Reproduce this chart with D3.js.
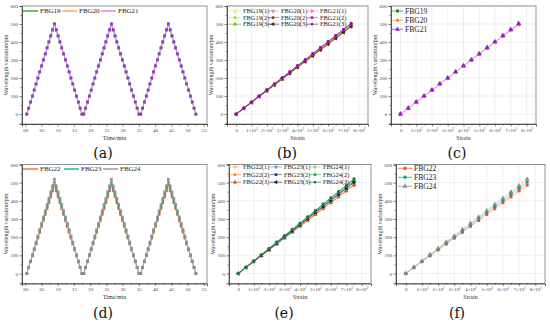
<!DOCTYPE html>
<html><head><meta charset="utf-8">
<script src="https://cdn.jsdelivr.net/npm/d3@7"></script>
<style>body{margin:0;background:#fff}svg{display:block}</style>
</head><body>
<svg id="c" width="550" height="323"></svg>
<script>
// ---------- DATA ----------
const timeMin = [0.50,1.07,1.63,2.20,2.76,3.33,3.90,4.46,5.03,5.59,6.16,6.73,7.29,7.86,8.42,8.99,9.56,10.12,10.69,11.25,11.82,12.39,12.95,13.52,14.08,14.65,15.22,15.78,16.35,16.91,17.48,
18.05,18.61,19.18,19.74,20.31,20.88,21.44,22.01,22.57,23.14,23.71,24.27,24.84,25.40,25.97,26.54,27.10,27.67,28.23,28.80,29.37,29.93,30.50,31.06,31.63,32.20,32.76,33.33,33.89,34.46,35.03,
35.59,36.16,36.72,37.29,37.86,38.42,38.99,39.55,40.12,40.69,41.25,41.82,42.38,42.95,43.52,44.08,44.65,45.21,45.78,46.35,46.91,47.48,48.04,48.61,49.18,49.74,50.31,50.87,51.44,52.01,52.57];
const loadStep = [0,1,2,3,4,5,6,7,8,9,10,11,12,13,14,15,14,13,12,11,10,9,8,7,6,5,4,3,2,1,0,
0,1,2,3,4,5,6,7,8,9,10,11,12,13,14,15,14,13,12,11,10,9,8,7,6,5,4,3,2,1,0,
0,1,2,3,4,5,6,7,8,9,10,11,12,13,14,15,14,13,12,11,10,9,8,7,6,5,4,3,2,1,0];
const strain = [0,50,100,150,200,250,300,350,400,450,500,550,600,650,700,750];
const timeTicks = [0,5,10,15,20,25,30,35,40,45,50,55];
const strainTicks = [0,100,200,300,400,500,600,700,800];
const wlTicks = [0,100,200,300,400,500,600];

// mean responses (panels c, a)
const fbg19 = [0,33,67,100,133,167,200,234,267,300,334,367,400,433,467,499];
const fbg20 = [0,33,66,99,132,165,198,232,265,298,331,364,397,430,463,495];
const fbg21 = [0,33,67,100,134,168,201,235,268,302,335,369,402,436,469,502];
// repeated tests (panel b)
const fbg19r1 = [0,33,66,99,132,165,198,231,264,297,330,363,396,429,462,495];
const fbg19r2 = [0,33,66,100,133,166,199,232,265,298,331,364,397,430,463,497];
const fbg19r3 = [0,32,66,99,132,165,197,230,263,296,329,362,395,428,461,494];
const fbg20r1 = [0,32,65,97,130,162,195,227,260,292,325,357,390,422,455,487];
const fbg20r2 = [0,32,65,98,130,163,196,228,261,294,326,359,392,424,457,490];
const fbg20r3 = [0,32,64,97,129,162,194,226,259,291,323,356,388,420,453,485];
const fbg21r1 = [0,34,67,101,134,168,201,235,268,302,335,369,402,436,469,503];
const fbg21r2 = [0,33,67,100,134,167,201,234,268,301,335,368,402,435,469,502];
const fbg21r3 = [0,34,67,101,135,168,202,235,269,302,336,370,403,437,470,504];
// mean responses (panels f, d)
const fbg22 = [0,32,65,97,130,162,195,227,260,292,325,357,390,422,455,487];
const fbg23 = [0,34,67,101,134,168,201,235,268,302,335,369,402,436,469,503];
const fbg24 = [0,35,69,104,138,173,207,242,276,311,345,380,414,449,483,519];
// repeated tests (panel e)
const fbg22r1 = [0,32,65,97,130,162,195,227,260,292,325,357,390,422,455,487];
const fbg22r2 = [0,32,64,97,129,162,194,227,259,291,324,356,389,421,453,486];
const fbg22r3 = [0,33,65,98,130,163,196,228,261,293,326,359,391,424,456,489];
const fbg23r1 = [0,34,67,101,134,168,201,235,268,302,335,369,402,436,469,503];
const fbg23r2 = [0,33,67,100,134,167,201,234,268,301,335,368,401,435,468,502];
const fbg23r3 = [0,34,68,101,135,169,203,236,270,304,338,371,405,439,473,506];
const fbg24r1 = [0,35,69,104,138,173,207,242,276,311,345,380,414,449,483,518];
const fbg24r2 = [0,35,70,104,139,174,209,244,278,313,348,383,418,452,487,522];
const fbg24r3 = [0,34,69,103,138,172,207,241,276,310,345,379,414,448,483,517];

// ---------- DRAW ----------
const FONT = "'Liberation Serif','Times New Roman',serif";
const svg = d3.select("#c").style("font-family", FONT);

const SYM = {
  sq: {t: d3.symbolSquare, r: 0},
  ci: {t: d3.symbolCircle, r: 0},
  up: {t: d3.symbolTriangle, r: 0},
  dn: {t: d3.symbolTriangle, r: 180},
  lt: {t: d3.symbolTriangle, r: -90},
  rt: {t: d3.symbolTriangle, r: 90},
  ssq: {t: d3.symbolSquare, r: 0, s: 0.6}
};

function marker(g, cx, cy, sym, color, size) {
  const s = SYM[sym];
  g.append("path")
    .attr("d", d3.symbol().type(s.t).size(size * (s.s || 1))())
    .attr("transform", `translate(${cx},${cy}) rotate(${s.r})`)
    .attr("fill", color);
}

function panel(cfg) {
  const g = svg.append("g");
  const x = d3.scaleLinear().domain(cfg.xd).range([cfg.x0, cfg.x1]);
  const y = d3.scaleLinear().domain([-55, 600]).range([cfg.y1, cfg.y0]);
  if (cfg.grid) {
    g.append("g").selectAll("line").data(cfg.xt).join("line")
      .attr("x1", d => x(d)).attr("x2", d => x(d)).attr("y1", cfg.y0).attr("y2", cfg.y1)
      .attr("stroke", "#e4e4e4").attr("stroke-width", 0.6);
    g.append("g").selectAll("line").data(wlTicks).join("line")
      .attr("y1", d => y(d)).attr("y2", d => y(d)).attr("x1", cfg.x0).attr("x2", cfg.x1)
      .attr("stroke", "#e4e4e4").attr("stroke-width", 0.6);
  }
  g.append("rect").attr("x", cfg.x0).attr("y", cfg.y0)
    .attr("width", cfg.x1 - cfg.x0).attr("height", cfg.y1 - cfg.y0)
    .attr("fill", "none").attr("stroke", "#666").attr("stroke-width", 0.7);

  const xm = [];
  for (let i = 0; i < cfg.xt.length - 1; i++) xm.push((cfg.xt[i] + cfg.xt[i + 1]) / 2);
  g.append("g").attr("transform", `translate(0,${cfg.y1})`)
    .call(d3.axisBottom(x).tickValues(xm).tickSize(1.5).tickFormat(""))
    .call(a => a.select(".domain").remove())
    .selectAll("line").attr("stroke", "#444").attr("stroke-width", 0.6);
  const ym = [-50, 50, 150, 250, 350, 450, 550];
  g.append("g").attr("transform", `translate(${cfg.x0},0)`)
    .call(d3.axisLeft(y).tickValues(ym).tickSize(1.5).tickFormat(""))
    .call(a => a.select(".domain").remove())
    .selectAll("line").attr("stroke", "#444").attr("stroke-width", 0.6);

  const xa = g.append("g").attr("transform", `translate(0,${cfg.y1})`)
    .call(d3.axisBottom(x).tickValues(cfg.xt).tickSize(2.5).tickPadding(1.5)
      .tickFormat(cfg.xf));
  xa.select(".domain").attr("stroke", "#333").attr("stroke-width", 0.8);
  xa.selectAll("line").attr("stroke", "#333").attr("stroke-width", 0.6);
  xa.selectAll("text").attr("font-size", 5).attr("fill", "#444").attr("font-family", FONT);
  if (cfg.sup) {
    xa.selectAll("text").each(function (d) {
      const t = d3.select(this);
      if (d === 0) return;
      t.text(null);
      t.append("tspan").text(`${d / 100}×10`);
      t.append("tspan").attr("dy", -1.8).attr("font-size", 3.3).text("2");
    });
  }
  const ya = g.append("g").attr("transform", `translate(${cfg.x0},0)`)
    .call(d3.axisLeft(y).tickValues(wlTicks).tickSize(2.5).tickPadding(1.5));
  ya.select(".domain").attr("stroke", "#333").attr("stroke-width", 0.8);
  ya.selectAll("line").attr("stroke", "#333").attr("stroke-width", 0.6);
  ya.selectAll("text").attr("font-size", 5).attr("fill", "#444").attr("font-family", FONT);

  g.append("text").attr("x", (cfg.x0 + cfg.x1) / 2).attr("y", cfg.y1 + 15.5)
    .attr("text-anchor", "middle").attr("font-size", 6).attr("fill", "#333").text(cfg.xTitle);
  g.append("text").attr("transform", `translate(${cfg.x0 - 14.5},${(cfg.y0 + cfg.y1) / 2}) rotate(-90)`)
    .attr("text-anchor", "middle").attr("font-size", 6).attr("fill", "#333")
    .text("Wavelength variation/pm");
  g.append("text").attr("x", cfg.lx).attr("y", cfg.y1 + 34)
    .attr("text-anchor", "middle").attr("font-size", 14).attr("fill", "#111")
    .attr("font-family", "'DejaVu Serif','Liberation Serif',serif").text(cfg.label);
  return {g, x, y};
}

function series(P, xs, ys, color, lineColor, sym, size, lw) {
  const pts = xs.map((v, i) => [v, ys[i]]);
  P.g.append("path").datum(pts)
    .attr("d", d3.line().x(d => P.x(d[0])).y(d => P.y(d[1])))
    .attr("fill", "none").attr("stroke", lineColor).attr("stroke-width", lw);
  const mg = P.g.append("g");
  pts.forEach(p => marker(mg, P.x(p[0]), P.y(p[1]), sym, color, size));
}

function legendItem(g, x, y, len, color, sym, text, fs, lw, msize) {
  g.append("line").attr("x1", x).attr("x2", x + len).attr("y1", y).attr("y2", y)
    .attr("stroke", color).attr("stroke-width", lw);
  if (sym) marker(g, x + len / 2, y, sym, color, msize);
  g.append("text").attr("x", x + len + 2).attr("y", y + fs * 0.33)
    .attr("font-size", fs).attr("fill", "#222").text(text);
}

const timeFmt = d3.format("02d");
const top0 = 6, top1 = 124, bot0 = 164.5, bot1 = 283.5;

// ---- (a) ----
const A = panel({x0: 22, x1: 207, y0: top0, y1: top1, xd: [-1, 56], xt: timeTicks, xf: timeFmt,
  xTitle: "Time/min", label: "(a)", lx: 103});
const sA = [[fbg20, "#ff9f3a", "#ffb366"], [fbg19, "#2aa52a", "#3cb44b"], [fbg21, "#9b30d8", "#d98cff"]];
sA.forEach(([arr, mc, lc]) => series(A, timeMin, loadStep.map(k => arr[k]), mc, lc, "sq", 7, 0.8));
legendItem(A.g, 23, 11, 15, "#3cb44b", null, "FBG19", 7, 1.6);
legendItem(A.g, 62, 11, 15, "#ffb366", null, "FBG20", 7, 1.6);
legendItem(A.g, 101, 11, 15, "#d98cff", null, "FBG21", 7, 1.6);

// ---- (b) ----
const B = panel({x0: 227, x1: 368, y0: top0, y1: top1, xd: [-60, 860], xt: strainTicks, xf: d => d, sup: true,
  grid: true, xTitle: "Strain", label: "(b)", lx: 287});
const sB = [
  [fbg19r1, "#dff06a", "sq", "FBG19(1)"], [fbg19r2, "#a6e22e", "ci", "FBG19(2)"], [fbg19r3, "#6cbf1f", "up", "FBG19(3)"],
  [fbg20r1, "#c8967a", "dn", "FBG20(1)"], [fbg20r2, "#8b4a22", "ci", "FBG20(2)"], [fbg20r3, "#4e2512", "lt", "FBG20(3)"],
  [fbg21r1, "#ff70d8", "rt", "FBG21(1)"], [fbg21r2, "#c81ec8", "ci", "FBG21(2)"], [fbg21r3, "#6a1a8e", "ssq", "FBG21(3)"]];
sB.forEach(([arr, c, s]) => series(B, strain, arr, c, c, s, 8, 0.6));
sB.forEach(([arr, c, s, t], i) => {
  const col = Math.floor(i / 3), row = i % 3;
  legendItem(B.g, [229, 267, 306][col], 11 + row * 6.6, 12, c, s, t, 6.4, 0.6, 8);
});

// ---- (c) ----
const C = panel({x0: 391, x1: 536, y0: top0, y1: top1, xd: [-60, 860], xt: strainTicks, xf: d => d, sup: true,
  grid: true, xTitle: "Strain", label: "(c)", lx: 457});
series(C, strain, fbg19, "#1e8c1e", "#5cc05c", "sq", 9, 0.7);
series(C, strain, fbg20, "#ff8c1a", "#ffc080", "ci", 9, 0.7);
series(C, strain, fbg21, "#9a1fd0", "#e7a4ff", "up", 12, 1.0);
legendItem(C.g, 392, 11, 11, "#1e8c1e", "sq", "FBG19", 7.6, 0.7, 9);
legendItem(C.g, 392, 20.3, 11, "#ff8c1a", "ci", "FBG20", 7.6, 0.7, 9);
legendItem(C.g, 392, 29.3, 11, "#9a1fd0", "up", "FBG21", 7.6, 0.7, 10);

// ---- (d) ----
const D = panel({x0: 22, x1: 207, y0: bot0, y1: bot1, xd: [-1, 56], xt: timeTicks, xf: timeFmt,
  xTitle: "Time/min", label: "(d)", lx: 103});
const sD = [[fbg22, "#ff5a1f", "#ff7a50"], [fbg23, "#1fa08c", "#3cb8a4"], [fbg24, "#8f8f8f", "#b0b0b0"]];
sD.forEach(([arr, mc, lc]) => series(D, timeMin, loadStep.map(k => arr[k]), mc, lc, "sq", 7, 0.8));
legendItem(D.g, 23, 169, 15, "#ff7a50", null, "FBG22", 7, 1.6);
legendItem(D.g, 64, 169, 15, "#3cb8a4", null, "FBG23", 7, 1.6);
legendItem(D.g, 103, 169, 15, "#a0a0a0", null, "FBG24", 7, 1.6);

// ---- (e) ----
const E = panel({x0: 229, x1: 371, y0: bot0, y1: bot1, xd: [-60, 860], xt: strainTicks, xf: d => d, sup: true,
  grid: true, xTitle: "Strain", label: "(e)", lx: 284});
const sE = [
  [fbg22r1, "#ffbe84", "sq", "FBG22(1)"], [fbg22r2, "#ff8a2e", "ci", "FBG22(2)"], [fbg22r3, "#d9541a", "up", "FBG22(3)"],
  [fbg23r1, "#5b9bd5", "dn", "FBG23(1)"], [fbg23r2, "#1f3f6f", "ci", "FBG23(2)"], [fbg23r3, "#102a4a", "lt", "FBG23(3)"],
  [fbg24r1, "#8fdc8f", "sq", "FBG24(1)"], [fbg24r2, "#2aa84a", "ci", "FBG24(2)"], [fbg24r3, "#176a38", "ssq", "FBG24(3)"]];
sE.forEach(([arr, c, s]) => series(E, strain, arr, c, c, s, 8, 0.6));
sE.forEach(([arr, c, s, t], i) => {
  const col = Math.floor(i / 3), row = i % 3;
  legendItem(E.g, [229, 270, 309][col], 167 + row * 7.6, 12, c, s, t, 6.4, 0.6, 8);
});

// ---- (f) ----
const F = panel({x0: 396, x1: 545, y0: bot0, y1: bot1, xd: [-60, 860], xt: strainTicks, xf: d => d, sup: true,
  grid: true, xTitle: "Strain", label: "(f)", lx: 457});
series(F, strain, fbg22, "#ff4a14", "#ff8866", "sq", 9, 0.7);
series(F, strain, fbg23, "#169c86", "#6cc8b8", "ci", 9, 0.7);
series(F, strain, fbg24, "#888888", "#b8b8b8", "up", 10, 0.7);
legendItem(F.g, 398, 168.3, 14, "#ff4a14", "sq", "FBG22", 7.6, 0.7, 9);
legendItem(F.g, 398, 177.3, 14, "#169c86", "ci", "FBG23", 7.6, 0.7, 9);
legendItem(F.g, 398, 186.3, 14, "#888888", "up", "FBG24", 7.6, 0.7, 10);
</script>
</body></html>
